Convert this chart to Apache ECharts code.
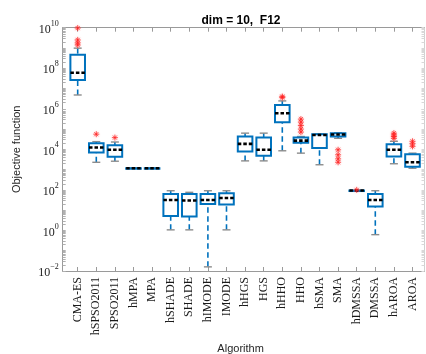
<!DOCTYPE html>
<html>
<head>
<meta charset="utf-8">
<script src="https://cdn.jsdelivr.net/npm/echarts@6/dist/echarts.min.js"></script>
<style>
  html, body { margin: 0; padding: 0; background: #fff; }
  #chart { width: 426px; height: 354px; }
</style>
</head>
<body>
<div id="chart"></div>
<script>
// Algorithms compared on the F12 benchmark (dim = 10)
const algorithms = ['CMA-ES', 'hSPSO2011', 'SPSO2011', 'hMPA', 'MPA', 'hSHADE', 'SHADE', 'hIMODE', 'IMODE',
  'hHGS', 'HGS', 'hHHO', 'HHO', 'hSMA', 'SMA', 'hDMSSA', 'DMSSA', 'hAROA', 'AROA'];

// Box statistics per algorithm (objective function values)
const whiskerLow = [4.8e6, 2.3e3, 2.6e3, 1.17e3, 1.17e3, 1.07, 1.07, 0.016, 1.07,
  2.7e3, 2.7e3, 8.5e3, 6.5e3, 1.74e3, 3.5e4, 93, 0.62, 1.95e3, 1.17e3];
const quartile1 = [2.6e7, 6.9e3, 4.3e3, 1.17e3, 1.17e3, 5.2, 4.9, 20, 19,
  7.8e3, 4.9e3, 2.2e5, 2.1e4, 1.15e4, 4.3e4, 93, 15, 4.5e3, 1.4e3];
const medians = [6.0e7, 1.23e4, 9.5e3, 1.17e3, 1.17e3, 32, 30, 32, 40,
  1.86e4, 9.5e3, 6.0e5, 2.7e4, 5.1e4, 5.4e4, 93, 32, 9.5e3, 2.3e3];
const quartile3 = [4.6e8, 2.0e4, 1.6e4, 1.17e3, 1.17e3, 62, 62, 62, 69,
  4.3e4, 3.8e4, 1.55e6, 3.8e4, 5.6e4, 6.3e4, 93, 62, 1.8e4, 5.8e3];
const whiskerHigh = [9.8e8, 2.4e4, 2.3e4, 1.17e3, 1.17e3, 91, 76, 91, 91,
  6.3e4, 6.3e4, 2.45e6, 4.3e4, 5.9e4, 6.6e4, 93, 91, 2.5e4, 6.5e3];

// Outlying runs
const outlierAlgorithm = ['CMA-ES', 'CMA-ES', 'CMA-ES', 'CMA-ES', 'hSPSO2011', 'SPSO2011', 'hHHO', 'hHHO',
  'HHO', 'HHO', 'HHO', 'HHO', 'HHO', 'SMA', 'SMA', 'SMA', 'SMA', 'hDMSSA',
  'hAROA', 'hAROA', 'hAROA', 'hAROA', 'AROA', 'AROA', 'AROA'];
const outlierValue = [9.6e9, 2.5e9, 1.8e9, 1.4e9, 5.6e4, 3.8e4, 4.0e6, 3.6e6,
  3.1e5, 2.2e5, 1.5e5, 1.0e5, 7.1e4, 9.5e3, 5.4e3, 3.4e3, 2.3e3, 100,
  6.3e4, 5.1e4, 4.3e4, 3.5e4, 2.5e4, 1.9e4, 1.4e4];

// Y-axis range and tick labels (powers of ten)
const yMin = 1e-2, yMax = 1e10;
const yTickExponents = [-2, 0, 2, 4, 6, 8, 10];

const positions = algorithms.map((_, i) => i + 1);
const boxData = algorithms.map((_, i) =>
  [i + 1, whiskerLow[i], quartile1[i], medians[i], quartile3[i], whiskerHigh[i]]);
const outlierData = outlierValue.map((v, i) => [algorithms.indexOf(outlierAlgorithm[i]) + 1, v]);

// Tick marks: every decade plus 2..9 multiples inside each decade
const decadeTicks = [];
const minorTicks = [];
for (let e = -2; e <= 10; e++) {
  decadeTicks.push(Math.pow(10, e));
  if (e < 10) for (let m = 2; m <= 9; m++) minorTicks.push(m * Math.pow(10, e));
}

const axisGray = '#9a9a9a';
const boxBlue = '#0072BD';

function renderBox(params, api) {
  const x = api.value(0);
  const pLow = api.coord([x, api.value(1)]);
  const pQ1 = api.coord([x, api.value(2)]);
  const pMed = api.coord([x, api.value(3)]);
  const pQ3 = api.coord([x, api.value(4)]);
  const pHigh = api.coord([x, api.value(5)]);
  const cx = pMed[0];
  const half = 7.3, capHalf = 4;
  const whiskerStyle = { stroke: boxBlue, lineWidth: 1.6, lineDash: [5.5, 3.5] };
  const capStyle = { stroke: '#8c8c8c', lineWidth: 1.4 };
  return {
    type: 'group',
    children: [
      { type: 'line', shape: { x1: cx, y1: pHigh[1], x2: cx, y2: pQ3[1] }, style: whiskerStyle },
      { type: 'line', shape: { x1: cx, y1: pLow[1], x2: cx, y2: pQ1[1] }, style: whiskerStyle },
      { type: 'line', shape: { x1: cx - capHalf, y1: pHigh[1], x2: cx + capHalf, y2: pHigh[1] }, style: capStyle },
      { type: 'line', shape: { x1: cx - capHalf, y1: pLow[1], x2: cx + capHalf, y2: pLow[1] }, style: capStyle },
      { type: 'rect', shape: { x: cx - half, y: pQ3[1], width: 2 * half, height: Math.max(pQ1[1] - pQ3[1], 0.5) },
        style: { fill: 'rgba(255,255,255,0)', stroke: boxBlue, lineWidth: 2 } },
      { type: 'line', shape: { x1: cx - half, y1: pMed[1], x2: cx + half, y2: pMed[1] },
        style: { stroke: '#000', lineWidth: 2.6, lineDash: [3.5, 2] } }
    ]
  };
}

const xCommon = {
  type: 'value',
  min: 0.194,
  max: 19.645,
  splitLine: { show: false },
  axisLine: { show: true, lineStyle: { color: axisGray, width: 1 } }
};
const yCommon = {
  type: 'log',
  logBase: 10,
  min: yMin,
  max: yMax,
  interval: 2,
  splitLine: { show: false },
  axisLine: { show: true, lineStyle: { color: axisGray, width: 1 } }
};

const chart = echarts.init(document.getElementById('chart'), null, { renderer: 'canvas' });
chart.setOption({
  backgroundColor: '#ffffff',
  animation: false,
  title: {
    text: 'dim = 10,  F12',
    left: 236,
    top: 10,
    textAlign: 'center',
    textStyle: { fontFamily: 'Liberation Sans', fontWeight: 'bold', fontSize: 12, color: '#000' }
  },
  grid: {
    left: 62.7, top: 27.7, right: 1.5, bottom: 83,
    containLabel: false,
    outerBoundsMode: 'none'
  },
  xAxis: [
    Object.assign({}, xCommon, {
      position: 'bottom',
      name: 'Algorithm',
      nameLocation: 'middle',
      nameGap: 70,
      nameTextStyle: { fontFamily: 'Liberation Sans', fontSize: 11, color: '#262626', padding: [0, 6, 0, 0] },
      axisTick: { show: true, inside: true, length: 4, customValues: positions, lineStyle: { color: axisGray } },
      axisLabel: {
        show: true,
        customValues: positions,
        rotate: 90,
        margin: 6,
        fontFamily: 'Liberation Serif',
        fontSize: 12,
        color: '#1a1a1a',
        formatter: v => algorithms[Math.round(v) - 1] || ''
      }
    }),
    Object.assign({}, xCommon, {
      position: 'top',
      axisTick: { show: true, inside: true, length: 4, customValues: positions, lineStyle: { color: axisGray } },
      axisLabel: { show: false }
    })
  ],
  yAxis: [
    Object.assign({}, yCommon, {
      position: 'left',
      name: 'Objective function',
      nameLocation: 'middle',
      nameRotate: 90,
      nameGap: 40,
      nameTextStyle: { fontFamily: 'Liberation Sans', fontSize: 11, color: '#262626' },
      axisTick: { show: true, inside: true, length: 3, customValues: decadeTicks.concat(minorTicks),
        lineStyle: { color: '#b0b0b0' } },
      axisLabel: {
        show: true,
        margin: 4,
        customValues: yTickExponents.map(e => Math.pow(10, e)),
        formatter: v => {
          const e = Math.round(Math.log10(v));
          return '{b|10}{s|' + (e < 0 ? '\u2212' + (-e) : e) + '}';
        },
        rich: {
          b: { fontFamily: 'Liberation Serif', fontSize: 12, color: '#1a1a1a', verticalAlign: 'bottom' },
          s: { fontFamily: 'Liberation Serif', fontSize: 8, color: '#1a1a1a', verticalAlign: 'top', padding: [0, 0, 8, 0] }
        }
      }
    }),
    Object.assign({}, yCommon, {
      position: 'right',
      axisLine: { show: true, lineStyle: { color: '#d0d0d0', width: 1 } },
      axisTick: { show: true, inside: true, length: 3, customValues: decadeTicks.concat(minorTicks),
        lineStyle: { color: '#d8d8d8' } },
      axisLabel: { show: false }
    })
  ],
  series: [
    {
      type: 'custom',
      xAxisIndex: 0,
      yAxisIndex: 0,
      data: boxData,
      encode: { x: 0, y: [1, 2, 3, 4, 5] },
      renderItem: renderBox,
      clip: false,
      z: 3
    },
    {
      type: 'scatter',
      xAxisIndex: 0,
      yAxisIndex: 0,
      data: outlierData,
      symbol: 'path://M5,0L5,10M0,5L10,5M1.6,1.6L8.4,8.4M8.4,1.6L1.6,8.4',
      symbolSize: 6,
      clip: false,
      itemStyle: {
        color: 'rgba(255,0,0,0)',
        borderColor: '#ff2020',
        borderWidth: 0.9,
        shadowColor: 'rgba(255,90,90,0.45)',
        shadowBlur: 2
      },
      z: 4
    }
  ]
});
</script>
</body>
</html>
